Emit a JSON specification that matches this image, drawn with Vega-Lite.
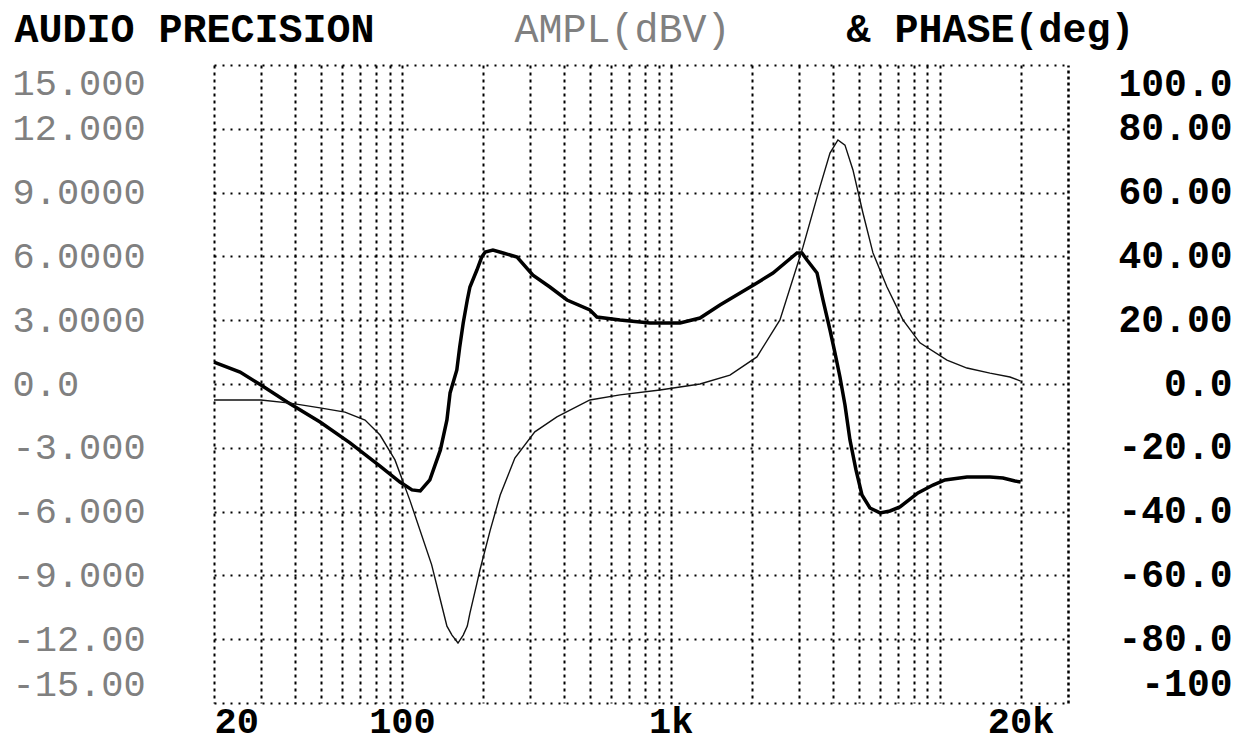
{
  "$schema": "https://vega.github.io/schema/vega-lite/v6.json",
  "width": 854,
  "height": 638,
  "autosize": {"type": "none"},
  "padding": {"left": 214, "top": 65, "right": 172, "bottom": 41},
  "background": "white",
  "config": {"view": {"stroke": null}},
  "datasets": {
    "amp": [
      {"f": 20, "db": 1.03}, {"f": 25, "db": 0.56}, {"f": 29.9, "db": -0.05}, {"f": 37.4, "db": -0.85},
      {"f": 49.6, "db": -1.79}, {"f": 64.1, "db": -2.77}, {"f": 82.9, "db": -3.86}, {"f": 98.3, "db": -4.61},
      {"f": 109, "db": -4.98}, {"f": 117, "db": -5.03}, {"f": 127, "db": -4.51}, {"f": 139, "db": -3.1},
      {"f": 147, "db": -1.69}, {"f": 151, "db": -0.42}, {"f": 160, "db": 0.66}, {"f": 164, "db": 1.74},
      {"f": 169, "db": 2.87}, {"f": 175, "db": 3.95}, {"f": 179, "db": 4.56}, {"f": 190, "db": 5.36},
      {"f": 198, "db": 5.97}, {"f": 204, "db": 6.21}, {"f": 218, "db": 6.3}, {"f": 238, "db": 6.16},
      {"f": 268, "db": 5.97}, {"f": 307, "db": 5.12}, {"f": 355, "db": 4.56}, {"f": 411, "db": 3.95},
      {"f": 500, "db": 3.48}, {"f": 531, "db": 3.15}, {"f": 647, "db": 3.01}, {"f": 836, "db": 2.87},
      {"f": 1082, "db": 2.87}, {"f": 1284, "db": 3.1}, {"f": 1523, "db": 3.71}, {"f": 2090, "db": 4.75},
      {"f": 2398, "db": 5.22}, {"f": 2946, "db": 6.16}, {"f": 3074, "db": 6.16}, {"f": 3210, "db": 5.83},
      {"f": 3497, "db": 5.22}, {"f": 3680, "db": 3.95}, {"f": 3908, "db": 2.54}, {"f": 4078, "db": 1.46},
      {"f": 4256, "db": 0.33}, {"f": 4443, "db": -0.99}, {"f": 4637, "db": -2.63}, {"f": 4882, "db": -4.04},
      {"f": 5139, "db": -5.22}, {"f": 5502, "db": -5.83}, {"f": 5997, "db": -6.06}, {"f": 6532, "db": -5.97},
      {"f": 7115, "db": -5.78}, {"f": 8300, "db": -5.12}, {"f": 9440, "db": -4.75}, {"f": 10460, "db": -4.51},
      {"f": 12630, "db": -4.37}, {"f": 15380, "db": -4.37}, {"f": 17190, "db": -4.42}, {"f": 19050, "db": -4.56},
      {"f": 20000, "db": -4.61}
    ],
    "phase": [
      {"f": 20, "deg": -5.0}, {"f": 29.9, "deg": -5.0}, {"f": 38.4, "deg": -6.0}, {"f": 49.6, "deg": -7.5},
      {"f": 61.4, "deg": -8.8}, {"f": 72.9, "deg": -11.3}, {"f": 82.9, "deg": -16.0}, {"f": 94.2, "deg": -23.8},
      {"f": 107, "deg": -36.4}, {"f": 129, "deg": -56.7}, {"f": 139, "deg": -67.7}, {"f": 147, "deg": -75.9},
      {"f": 153.5, "deg": -78.7}, {"f": 161.6, "deg": -81.2}, {"f": 169, "deg": -78.7}, {"f": 175, "deg": -75.9},
      {"f": 179, "deg": -71.8}, {"f": 190, "deg": -62.5}, {"f": 195, "deg": -58.3}, {"f": 213, "deg": -45.8},
      {"f": 232, "deg": -34.8}, {"f": 263, "deg": -23.2}, {"f": 312, "deg": -15.0}, {"f": 377, "deg": -10.3},
      {"f": 500, "deg": -5.0}, {"f": 647, "deg": -3.4}, {"f": 911, "deg": -1.9}, {"f": 1284, "deg": 0.0},
      {"f": 1659, "deg": 2.8}, {"f": 2090, "deg": 8.5}, {"f": 2546, "deg": 20.1}, {"f": 3100, "deg": 42.9},
      {"f": 3586, "deg": 61.8}, {"f": 3908, "deg": 72.4}, {"f": 4183, "deg": 76.5}, {"f": 4443, "deg": 74.9},
      {"f": 4757, "deg": 67.1}, {"f": 5182, "deg": 53.6}, {"f": 5646, "deg": 41.1}, {"f": 6366, "deg": 30.4},
      {"f": 7300, "deg": 20.1}, {"f": 8442, "deg": 12.9}, {"f": 10640, "deg": 7.5}, {"f": 12630, "deg": 5.0},
      {"f": 15380, "deg": 3.4}, {"f": 18250, "deg": 2.2}, {"f": 20000, "deg": 0.9}
    ]
  },
  "encoding": {
    "x": {
      "field": "f",
      "type": "quantitative",
      "scale": {"type": "log", "domain": [20, 30000], "nice": false},
      "axis": {
        "values": [20, 30, 40, 50, 60, 70, 80, 90, 100, 200, 300, 400, 500, 600, 700, 800, 900, 1000, 2000, 3000, 4000, 5000, 6000, 7000, 8000, 9000, 10000, 20000],
        "labelExpr": "datum.value == 20 ? '20' : datum.value == 100 ? '100' : datum.value == 1000 ? '1k' : datum.value == 20000 ? '20k' : ''",
        "grid": true,
        "gridColor": "black",
        "gridDash": [3, 4],
        "gridWidth": 2,
        "gridOpacity": 1,
        "ticks": false,
        "domain": false,
        "labelFont": "Liberation Mono",
        "labelFontWeight": "bold",
        "labelFontSize": 37,
        "labelColor": "black",
        "labelPadding": 0,
        "labelFlush": true,
        "labelOverlap": false,
        "labelBound": false,
        "title": "AUDIO PRECISION",
        "titleX": -200,
        "titleY": -662,
        "titleAlign": "left",
        "titleBaseline": "alphabetic",
        "titleFont": "Liberation Mono",
        "titleFontWeight": "bold",
        "titleFontSize": 40,
        "titleColor": "black"
      }
    }
  },
  "layer": [
    {
      "data": {"name": "amp"},
      "mark": {"type": "line", "color": "black", "strokeWidth": 3.5, "strokeJoin": "miter"},
      "encoding": {
        "y": {
          "field": "db",
          "type": "quantitative",
          "scale": {"domain": [-15, 15], "nice": false, "zero": false},
          "axis": {
            "orient": "left",
            "values": [-15, -12, -9, -6, -3, 0, 3, 6, 9, 12, 15],
            "labelExpr": "datum.value == 0 ? '0.0' : datum.value >= 10 ? format(datum.value, '.3f') : datum.value > 0 ? format(datum.value, '.4f') : datum.value > -10 ? '-' + format(-datum.value, '.3f') : '-' + format(-datum.value, '.2f')",
            "grid": true,
            "gridColor": "black",
            "gridDash": [2, 6],
            "gridWidth": 2,
            "gridOpacity": 1,
            "ticks": false,
            "domain": false,
            "labelAlign": "left",
            "labelPadding": 202,
            "labelFlush": true,
            "labelOverlap": false,
            "labelBound": false,
            "labelFont": "Liberation Mono",
            "labelFontSize": 37,
            "labelColor": "#808080",
            "title": "AMPL(dBV)",
            "titleAngle": 0,
            "titleX": 300,
            "titleY": -24,
            "titleAlign": "left",
            "titleBaseline": "alphabetic",
            "titleFont": "Liberation Mono",
            "titleFontSize": 40,
            "titleFontWeight": "normal",
            "titleColor": "#808080"
          }
        }
      }
    },
    {
      "data": {"name": "phase"},
      "mark": {"type": "line", "color": "#111111", "strokeWidth": 1.4},
      "encoding": {
        "y": {
          "field": "deg",
          "type": "quantitative",
          "scale": {"domain": [-100, 100], "nice": false, "zero": false},
          "axis": {
            "orient": "right",
            "values": [-100, -80, -60, -40, -20, 0, 20, 40, 60, 80, 100],
            "labelExpr": "datum.value == 100 ? '100.0' : datum.value > 0 ? format(datum.value, '.2f') : datum.value == 0 ? '0.0' : datum.value > -100 ? '-' + format(-datum.value, '.1f') : '-100'",
            "grid": false,
            "ticks": false,
            "domain": true,
            "domainColor": "black",
            "domainDash": [3, 3],
            "domainWidth": 2.5,
            "labelAlign": "right",
            "labelPadding": 164,
            "labelFlush": true,
            "labelOverlap": false,
            "labelBound": false,
            "labelFont": "Liberation Mono",
            "labelFontWeight": "bold",
            "labelFontSize": 38,
            "labelColor": "black",
            "title": "& PHASE(deg)",
            "titleAngle": 0,
            "titleX": -222,
            "titleY": -24,
            "titleAlign": "left",
            "titleBaseline": "alphabetic",
            "titleFont": "Liberation Mono",
            "titleFontWeight": "bold",
            "titleFontSize": 40,
            "titleColor": "black"
          }
        }
      }
    }
  ],
  "resolve": {"scale": {"y": "independent"}, "axis": {"y": "independent"}}
}
